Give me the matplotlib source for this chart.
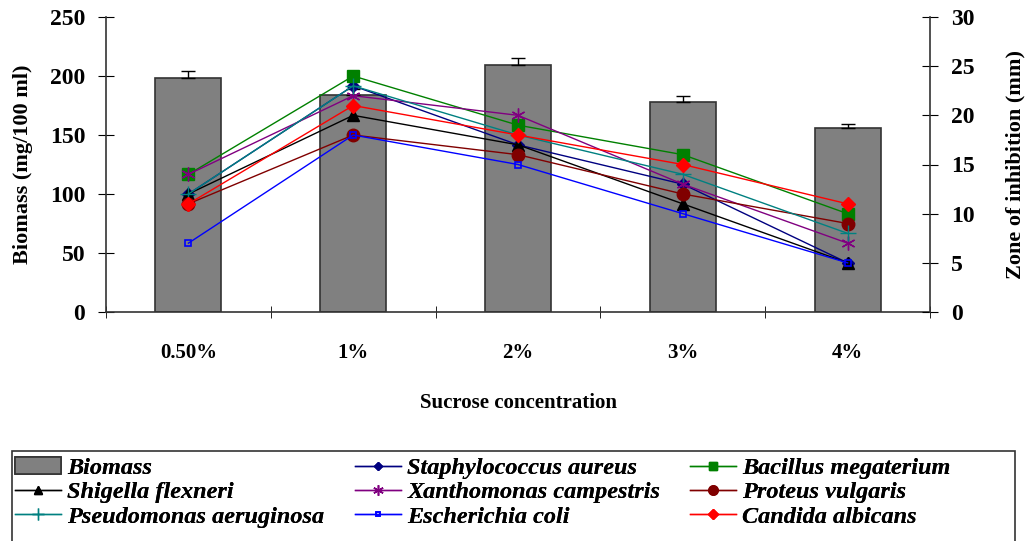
import numpy as np
import matplotlib.pyplot as plt
from matplotlib.patches import Rectangle

plt.rcParams['font.family'] = ['Liberation Serif', 'DejaVu Serif']
plt.rcParams['font.weight'] = 'bold'
plt.rcParams['axes.labelweight'] = 'bold'

# 数据
categories = ['0.50%', '1%', '2%', '3%', '4%']
biomass = [198, 184, 209, 178, 156]
biomass_err = [6, 5, 6, 5, 3]

staph = [12, 23, 17, 13, 5]
bacillus = [14, 24, 19, 16, 10]
shigella = [12, 20, 17, 11, 5]
xantho = [14, 22, 20, 13, 7]
proteus = [11, 18, 16, 12, 9]
pseudo = [12, 23, 18, 14, 8]
ecoli = [7, 18, 15, 10, 5]
candida = [11, 21, 18, 15, 11]

W, H = 1027, 541
fig = plt.figure(figsize=(W / 100, H / 100), dpi=100)
ax = fig.add_axes([106 / W, 1 - 312 / H, 824 / W, 295 / H])
ax2 = ax.twinx()

x = np.arange(len(categories))
bars = ax.bar(x, biomass, 0.4, color='#808080', edgecolor='#333333', linewidth=1.2,
              label='Biomass', zorder=2)
ax.errorbar(x, biomass, yerr=[np.zeros(len(x)), biomass_err], fmt='none',
            ecolor='black', capsize=5, elinewidth=1, zorder=3)

ax.set_xlim(-0.5, 4.5)
ax.set_ylim(0, 250)
ax.set_yticks([0, 50, 100, 150, 200, 250])
ax.set_xticks(x)
ax.set_xticklabels(categories, fontsize=15)
ax.set_xticks(np.arange(-0.5, 5, 1), minor=True)
ax.tick_params(axis='x', which='major', length=0, pad=22)
ax.tick_params(axis='x', which='minor', length=8, direction='inout')
ax.tick_params(axis='y', direction='inout', length=12, labelsize=17, pad=9)
ax.set_ylabel('Biomass (mg/100 ml)', fontsize=16, labelpad=12)
ax.set_xlabel('Sucrose concentration', fontsize=15, labelpad=22)

for s in ['top', 'right']:
    ax.spines[s].set_visible(False)
for s in ['top', 'left', 'bottom']:
    ax2.spines[s].set_visible(False)
for a in [ax, ax2]:
    for s in a.spines.values():
        s.set_color('#333333')
        s.set_linewidth(1.2)

series = [
    ('Staphylococcus aureus', staph, '#000080', 'D', 6),
    ('Bacillus megaterium', bacillus, '#008000', 's', 8),
    ('Shigella flexneri', shigella, 'black', '^', 8),
    ('Xanthomonas campestris', xantho, '#800080', (6, 2, 0), 10),
    ('Proteus vulgaris', proteus, '#800000', 'o', 9),
    ('Pseudomonas aeruginosa', pseudo, '#008080', '+', 11),
    ('Escherichia coli', ecoli, '#0000FF', 's', 4),
    ('Candida albicans', candida, '#FF0000', 'D', 7),
]
handles = {}
for name, vals, col, mk, ms in series:
    if name == 'Escherichia coli':
        h, = ax2.plot(x, vals, color=col, marker=mk, markersize=ms, markerfacecolor='none',
                      markeredgewidth=1.2, linewidth=1.0, label=name)
    else:
        h, = ax2.plot(x, vals, color=col, marker=mk, markersize=ms, linewidth=1.0, label=name)
    handles[name] = h

ax2.set_ylim(0, 30)
ax2.set_yticks([0, 5, 10, 15, 20, 25, 30])
ax2.tick_params(axis='y', direction='inout', length=12, labelsize=17, pad=9)
ax2.set_ylabel('Zone of inhibition (mm)', fontsize=16, labelpad=22)

# 图例: 三列手动放置
columns = [
    (15, [bars, handles['Shigella flexneri'], handles['Pseudomonas aeruginosa']]),
    (355, [handles['Staphylococcus aureus'], handles['Xanthomonas campestris'], handles['Escherichia coli']]),
    (690, [handles['Bacillus megaterium'], handles['Proteus vulgaris'], handles['Candida albicans']]),
]
for xpos, hs in columns:
    leg = fig.legend(hs, [h.get_label() for h in hs], loc='upper left',
                     bbox_to_anchor=(xpos / W, 1 - 457 / H),
                     prop={'family': 'Liberation Serif', 'style': 'italic', 'weight': 'bold', 'size': 17.5},
                     frameon=False, handlelength=1.9, handletextpad=0.25, markerscale=0.75,
                     labelspacing=0.1, borderpad=0, borderaxespad=0)
    fig.add_artist(leg)

fig.patches.append(Rectangle((12 / W, -0.05), (1015 - 12) / W, 0.05 + (541 - 451) / H,
                             transform=fig.transFigure, fill=False,
                             edgecolor='#333333', linewidth=1.2))

fig.savefig('out.png', dpi=100)
